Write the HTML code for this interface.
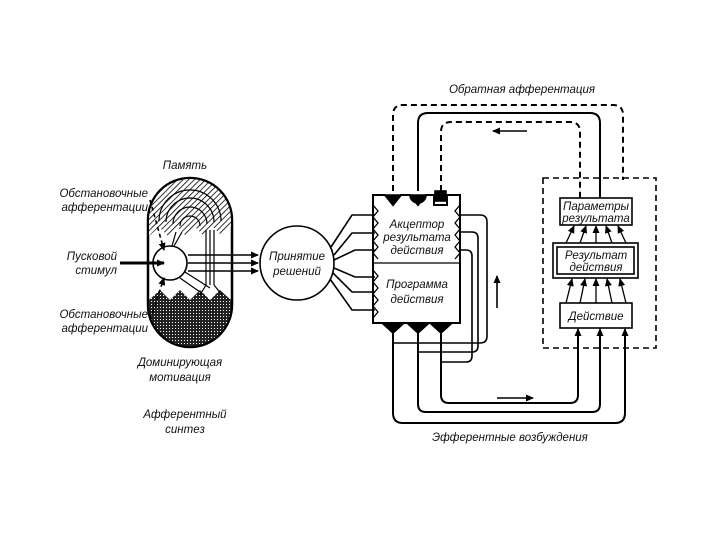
<!DOCTYPE html>
<html><head><meta charset="utf-8"><style>
html,body{margin:0;padding:0;background:#fff;}
svg{display:block}
text{font-family:"Liberation Sans",sans-serif;font-style:italic;fill:#111;font-size:11.5px}
</style></head><body>
<svg width="720" height="540" viewBox="0 0 720 540" xmlns="http://www.w3.org/2000/svg">
<defs>
<pattern id="h" width="4" height="4" patternUnits="userSpaceOnUse" patternTransform="rotate(45)">
<rect width="4" height="4" fill="#fff"/><line x1="0" y1="0" x2="0" y2="4" stroke="#000" stroke-width="1.6"/></pattern>
<pattern id="x" width="3" height="3" patternUnits="userSpaceOnUse">
<rect width="3" height="3" fill="#222"/><rect x="1" y="1" width="1" height="1" fill="#fff"/></pattern>
<marker id="a" markerUnits="userSpaceOnUse" markerWidth="8" markerHeight="7" refX="7" refY="3.5" orient="auto"><path d="M0,0 L8,3.5 L0,7 z" fill="#000"/></marker>
</defs>
<g stroke="#000" fill="none" stroke-width="1.6">
<!-- capsule -->
<path d="M148,220 A42,42 0 0 1 232,220 L232,305 A42,42 0 0 1 148,305 Z" stroke-width="2.5"/>
<path d="M149,220 A41,41 0 0 1 231,220 L231,226 L222,236 L213,227 L204,236 L195,227 L186,236 L177,227 L168,236 L159,227 L149,236 Z" fill="url(#h)" stroke="none"/>
<path d="M159,221 A31,31 0 0 1 221,221 M166,222 A24,24 0 0 1 214,222 M173,224 A17,17 0 0 1 207,224 M180,226 A10,10 0 0 1 200,226" stroke-width="1.2"/>
<path d="M149,305 L149,300 L160,290 L170,300 L180,290 L190,300 L200,290 L210,300 L220,290 L231,300 L231,305 A41,41 0 0 1 149,305 Z" fill="url(#x)" stroke="none"/>
<circle cx="170" cy="263" r="17" fill="#fff"/>
<path d="M176,232 L172,246 M182,232 L174,246 M206,230 L206,285 M210,230 L210,285 M214,230 L214,285" stroke-width="1.2"/>
<path d="M185,272 L210,288 M180,278 L200,292 M206,285 L200,295 M214,285 L222,295" stroke-width="1.2"/>
<path d="M150,200 L164,250" stroke-dasharray="4,3" marker-end="url(#a)"/>
<path d="M150,320 L164,278" stroke-dasharray="4,3" marker-end="url(#a)"/>
<path d="M120,263 L164,263" stroke-width="3" marker-end="url(#a)"/>
<path d="M188,255 L258,255" marker-end="url(#a)"/>
<path d="M188,263 L258,263" marker-end="url(#a)"/>
<path d="M188,271 L258,271" marker-end="url(#a)"/>
<circle cx="297" cy="263" r="37"/>
<!-- fan -->
<path d="M331,247 L352,215 L375,215 M334,255 L352,233 L375,233 M334,260 L355,250 L375,250 M334,268 L355,277 L375,277 M333,273 L352,292 L375,292 M330,279 L352,310 L375,310"/>
<!-- acceptor/program box -->
<path d="M373,195 L385,195 L393,205 L401,195 L410,195 L418,205 L426,195 L434,195 L434,205 L447,205 L447,195 L460,195 L460,323 L373,323 Z" stroke-width="2"/>
<path d="M373,263 L460,263" stroke-width="1.2"/>
<path d="M373,205 l5,6 l-5,6 l5,6 l-5,6 l5,6 l-5,6 l5,6 l-5,6 l5,6 M460,205 l-5,6 l5,6 l-5,6 l5,6 l-5,6 l5,6 l-5,6 l5,6 l-5,6 M373,270 l5,6 l-5,6 l5,6 l-5,6 l5,6 l-5,6 l5,6 l-5,6" stroke-width="1.3"/>
<path d="M385,195 L401,195 L393,205 Z M410,195 L426,195 A8,8 0 0 1 410,195 Z" fill="#000"/>
<rect x="435" y="191" width="11" height="10" fill="#000"/>
<path d="M382,323 L404,323 L393,333 Z M407,323 L429,323 L418,333 Z M430,323 L452,323 L441,333 Z" fill="#000"/>
<!-- feedback loops -->
<path d="M393,191 L393,115 Q393,105 403,105 L613,105 Q623,105 623,115 L623,180" stroke-dasharray="6,4" stroke-width="2"/>
<path d="M418,191 L418,123 Q418,113 428,113 L590,113 Q600,113 600,123 L600,198" stroke-width="2"/>
<path d="M441,191 L441,132 Q441,122 451,122 L570,122 Q580,122 580,132 L580,198" stroke-dasharray="6,4" stroke-width="2"/>
<path d="M527,131 L493,131" marker-end="url(#a)"/>
<!-- right-side loops -->
<path d="M460,215 L480,215 Q487,215 487,222 L487,336 Q487,343 480,343 L393,343 M460,232 L472,232 Q478,232 478,238 L478,346 Q478,352 472,352 L418,352 M460,250 L466,250 Q472,250 472,256 L472,356 Q472,362 466,362 L441,362"/>
<path d="M497,308 L497,276" marker-end="url(#a)"/>
<!-- efferent loops -->
<path d="M393,333 L393,413 Q393,423 403,423 L615,423 Q625,423 625,413 L625,330 M418,333 L418,404 Q418,412 426,412 L592,412 Q600,412 600,404 L600,330 M441,333 L441,395 Q441,403 449,403 L570,403 Q578,403 578,395 L578,330" stroke-width="2"/>
<path d="M578,340 L578,329" marker-end="url(#a)"/>
<path d="M600,340 L600,329" marker-end="url(#a)"/>
<path d="M625,340 L625,329" marker-end="url(#a)"/>
<path d="M497,398 L533,398" marker-end="url(#a)"/>
<!-- right dashed box -->
<rect x="543" y="178" width="113" height="170" stroke-dasharray="6,4" stroke-width="1.6"/>
<rect x="560" y="198" width="72" height="27" fill="#fff"/>
<rect x="553" y="243" width="85" height="35" fill="#fff"/>
<rect x="557" y="247" width="77" height="27"/>
<rect x="560" y="303" width="72" height="25" fill="#fff"/>
</g>
<g stroke="#000" stroke-width="1.3" fill="none">
<path d="M566,243 L574,226" marker-end="url(#a)"/>
<path d="M580,243 L586,226" marker-end="url(#a)"/>
<path d="M596,243 L596,226" marker-end="url(#a)"/>
<path d="M612,243 L606,226" marker-end="url(#a)"/>
<path d="M626,243 L618,226" marker-end="url(#a)"/>
<path d="M566,303 L572,279" marker-end="url(#a)"/>
<path d="M580,303 L585,279" marker-end="url(#a)"/>
<path d="M596,303 L596,279" marker-end="url(#a)"/>
<path d="M612,303 L607,279" marker-end="url(#a)"/>
<path d="M626,303 L620,279" marker-end="url(#a)"/>
</g>
<text x="185" y="169" text-anchor="middle">Память</text>
<text x="148" y="197" text-anchor="end" font-size="11">Обстановочные</text>
<text x="148" y="211" text-anchor="end" font-size="11">афферентации</text>
<text x="117" y="260" text-anchor="end">Пусковой</text>
<text x="117" y="274" text-anchor="end">стимул</text>
<text x="148" y="318" text-anchor="end" font-size="11">Обстановочные</text>
<text x="148" y="332" text-anchor="end" font-size="11">афферентации</text>
<text x="180" y="366" text-anchor="middle">Доминирующая</text>
<text x="180" y="381" text-anchor="middle">мотивация</text>
<text x="185" y="418" text-anchor="middle">Афферентный</text>
<text x="185" y="433" text-anchor="middle">синтез</text>
<text x="297" y="260" text-anchor="middle">Принятие</text>
<text x="297" y="275" text-anchor="middle">решений</text>
<text x="417" y="228" text-anchor="middle">Акцептор</text>
<text x="417" y="241" text-anchor="middle">результата</text>
<text x="417" y="254" text-anchor="middle">действия</text>
<text x="417" y="288" text-anchor="middle">Программа</text>
<text x="417" y="303" text-anchor="middle">действия</text>
<text x="522" y="93" text-anchor="middle">Обратная афферентация</text>
<text x="510" y="441" text-anchor="middle">Эфферентные возбуждения</text>
<text x="596" y="210" text-anchor="middle" font-size="11">Параметры</text>
<text x="596" y="222" text-anchor="middle" font-size="11">результата</text>
<text x="596" y="259" text-anchor="middle" font-size="11">Результат</text>
<text x="596" y="271" text-anchor="middle" font-size="11">действия</text>
<text x="596" y="320" text-anchor="middle" font-size="11">Действие</text>
</svg>
</body></html>
